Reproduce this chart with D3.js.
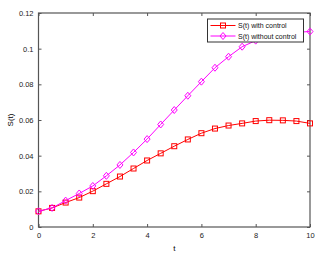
<!DOCTYPE html>
<html>
<head>
<meta charset="utf-8">
<script src="https://cdn.jsdelivr.net/npm/d3@7"></script>
<style>
  body { margin: 0; background: #fff; }
  text { font-family: "Liberation Sans", Arial, sans-serif; }
</style>
</head>
<body>
<div id="chart"></div>
<script>
// data
var tValues = [0, 0.5, 1, 1.5, 2, 2.5, 3, 3.5, 4, 4.5, 5, 5.5, 6, 6.5, 7, 7.5, 8, 8.5, 9, 9.5, 10];
var withControl = [0.0088, 0.0107, 0.0137, 0.0165, 0.0201, 0.0242, 0.0283, 0.0328, 0.0373, 0.0413, 0.0453,
                   0.0491, 0.0526, 0.0552, 0.0569, 0.0581, 0.0594, 0.0599, 0.0598, 0.0594, 0.0581];
var withoutControl = [0.0088, 0.0107, 0.0148, 0.0188, 0.0230, 0.0287, 0.0348, 0.0418, 0.0493, 0.0575, 0.0656,
                      0.0736, 0.0815, 0.0893, 0.0955, 0.1011, 0.1045, 0.1068, 0.1082, 0.1092, 0.1096];
var xTicks = [0, 2, 4, 6, 8, 10];
var yTicks = [0, 0.02, 0.04, 0.06, 0.08, 0.1, 0.12];
var seriesNames = ["S(t) with control", "S(t) without control"];
var seriesColors = ["#ff0000", "#ff00ff"];

var margin = {top: 13, right: 10, bottom: 32, left: 38.5},
    width = 320 - margin.left - margin.right,
    height = 259 - margin.top - margin.bottom;

var svg = d3.select("#chart").append("svg")
    .attr("width", 320)
    .attr("height", 259)
  .append("g")
    .attr("transform", "translate(" + margin.left + "," + margin.top + ")");

var x = d3.scaleLinear().domain([0, 10]).range([0, width]);
var y = d3.scaleLinear().domain([0, 0.12]).range([height, 0]);

var axisColor = "#555";

function styleAxis(g) {
  g.select(".domain").remove();
  g.selectAll(".tick line").attr("stroke", axisColor);
  g.selectAll(".tick text").attr("fill", "#222").style("font-size", "7.5px");
}

// bottom / left axes, ticks inward
svg.append("g")
  .attr("transform", "translate(0," + height + ")")
  .call(d3.axisBottom(x).tickValues(xTicks).tickSize(-3).tickPadding(6).tickFormat(d3.format("d")))
  .call(styleAxis);

svg.append("g")
  .call(d3.axisLeft(y).tickValues(yTicks).tickSize(-3).tickPadding(5).tickFormat(function (d) {
    return d === 0 ? "0" : String(+d.toFixed(2));
  }))
  .call(styleAxis);

// top / right axes, no labels
svg.append("g")
  .call(d3.axisTop(x).tickValues(xTicks).tickSize(-3).tickFormat(""))
  .call(styleAxis);

svg.append("g")
  .attr("transform", "translate(" + width + ",0)")
  .call(d3.axisRight(y).tickValues(yTicks).tickSize(-3).tickFormat(""))
  .call(styleAxis);

// frame
svg.append("rect")
  .attr("width", width)
  .attr("height", height)
  .attr("fill", "none")
  .attr("stroke", axisColor)
  .attr("stroke-width", 1.2);

// axis labels
svg.append("text")
  .attr("x", x(5))
  .attr("y", height + 24)
  .attr("text-anchor", "middle")
  .style("font-size", "8px")
  .text("t");

svg.append("text")
  .attr("transform", "rotate(-90)")
  .attr("x", -y(0.06))
  .attr("y", -26)
  .attr("text-anchor", "middle")
  .style("font-size", "8px")
  .text("S(t)");

var line = d3.line()
  .x(function (d, i) { return x(tValues[i]); })
  .y(function (d) { return y(d); });

function drawMarker(g, kind, cx, cy, color) {
  if (kind === 0) {
    g.append("rect")
      .attr("x", cx - 2.5).attr("y", cy - 2.5)
      .attr("width", 5).attr("height", 5)
      .attr("fill", "none").attr("stroke", color).attr("stroke-width", 1);
  } else {
    g.append("path")
      .attr("d", "M" + cx + "," + (cy - 3.5) + "L" + (cx + 3) + "," + cy + "L" + cx + "," + (cy + 3.5) + "L" + (cx - 3) + "," + cy + "Z")
      .attr("fill", "none").attr("stroke", color).attr("stroke-width", 1);
  }
}

[withControl, withoutControl].forEach(function (series, k) {
  svg.append("path")
    .datum(series)
    .attr("fill", "none")
    .attr("stroke", seriesColors[k])
    .attr("stroke-width", 1)
    .attr("d", line);
  var mg = svg.append("g");
  series.forEach(function (v, i) {
    drawMarker(mg, k, x(tValues[i]), y(v), seriesColors[k]);
  });
});

// legend
var legend = svg.append("g")
  .attr("transform", "translate(" + (207.5 - margin.left) + "," + (19 - margin.top) + ")");

legend.append("rect")
  .attr("width", 96)
  .attr("height", 23)
  .attr("fill", "#fff")
  .attr("stroke", "#333")
  .attr("stroke-width", 1);

seriesNames.forEach(function (name, k) {
  var ly = 6.5 + k * 10.5;
  legend.append("line")
    .attr("x1", 3).attr("x2", 28)
    .attr("y1", ly).attr("y2", ly)
    .attr("stroke", seriesColors[k]).attr("stroke-width", 1);
  drawMarker(legend, k, 15.5, ly, seriesColors[k]);
  legend.append("text")
    .attr("x", 30.5)
    .attr("y", ly + 2.5)
    .style("font-size", "7px")
    .attr("fill", "#111")
    .text(name);
});
</script>
</body>
</html>
